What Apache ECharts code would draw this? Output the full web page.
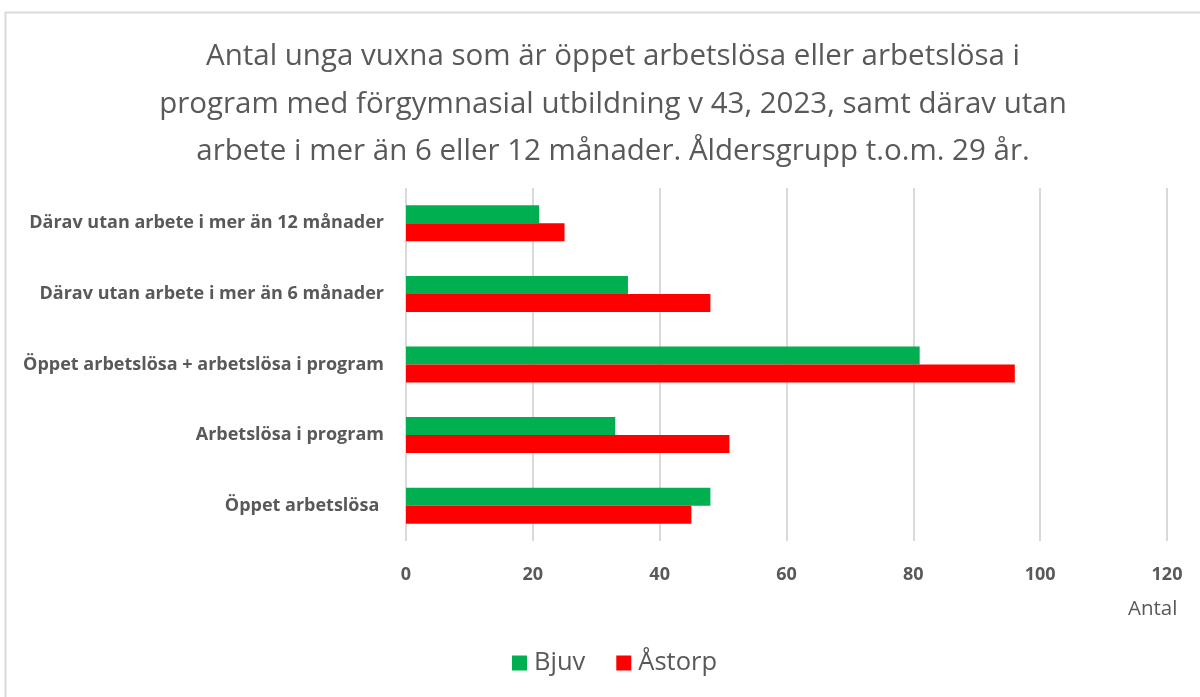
<!DOCTYPE html>
<html>
<head>
<meta charset="utf-8">
<script src="https://cdn.jsdelivr.net/npm/echarts@6/dist/echarts.min.js"></script>
<style>html,body{margin:0;padding:0;background:#fff;}#c{width:1200px;height:697px;}</style>
</head>
<body>
<div id="c"></div>
<script>
const categories = [
  "Därav utan arbete i mer än 12 månader",
  "Därav utan arbete i mer än 6 månader",
  "Öppet arbetslösa + arbetslösa i program",
  "Arbetslösa i program",
  "Öppet arbetslösa "
];
const bjuv = [21, 35, 81, 33, 48];
const astorp = [25, 48, 96, 51, 45];
const xTicks = [0, 20, 40, 60, 80, 100, 120];
const titleText = "Antal unga vuxna som är öppet arbetslösa eller arbetslösa i\nprogram med förgymnasial utbildning v 43, 2023, samt därav utan\narbete i mer än 6 eller 12 månader. Åldersgrupp t.o.m. 29 år.";

const chart = echarts.init(document.getElementById('c'), null, {renderer: 'canvas'});
const font = "'Open Sans', 'Noto Sans', sans-serif";
chart.setOption({
  animation: false,
  textStyle: {fontFamily: font},
  graphic: [{
    type: 'rect', left: 3, top: 10, silent: true,
    shape: {width: 1200, height: 700},
    style: {fill: 'none', stroke: '#d9d9d9', lineWidth: 2}
  }],
  title: [{
    text: titleText,
    left: 608, top: 28, textAlign: 'center',
    textStyle: {fontFamily: font, fontSize: 29.5, fontWeight: 'normal', color: '#595959', lineHeight: 47.5}
  }, {
    text: 'Antal', left: 1123, top: 594,
    textStyle: {fontFamily: font, fontSize: 20.5, fontWeight: 'normal', color: '#595959'}
  }],
  legend: {
    data: ['Bjuv', 'Åstorp'],
    left: 507, top: 645,
    itemWidth: 15, itemHeight: 15, itemGap: 31,
    icon: 'rect',
    textStyle: {fontFamily: font, fontSize: 25.5, color: '#595959', padding: [0, 0, 0, 2]}
  },
  grid: {left: 406, right: 33, top: 188, bottom: 156, containLabel: false},
  xAxis: {
    type: 'value', min: 0, max: 120, interval: 20,
    axisLine: {show: false}, axisTick: {show: false},
    splitLine: {lineStyle: {color: '#d9d9d9', width: 2}},
    axisLabel: {
      margin: 25, color: '#595959', fontSize: 18, fontWeight: 'bold', fontFamily: font,
      formatter: v => xTicks.includes(v) ? String(v) : ''
    }
  },
  yAxis: {
    type: 'category', data: categories, inverse: true,
    axisLine: {show: false}, axisTick: {show: false},
    axisLabel: {margin: 22, color: '#595959', fontSize: 18, fontWeight: 'bold', fontFamily: font}
  },
  series: [{
    name: 'Bjuv', type: 'bar', data: bjuv, barWidth: 18, barGap: '0%',
    itemStyle: {color: '#00b050'}
  }, {
    name: 'Åstorp', type: 'bar', data: astorp, barWidth: 18, barGap: '0%',
    itemStyle: {color: '#ff0000'}
  }]
});
</script>
</body>
</html>
